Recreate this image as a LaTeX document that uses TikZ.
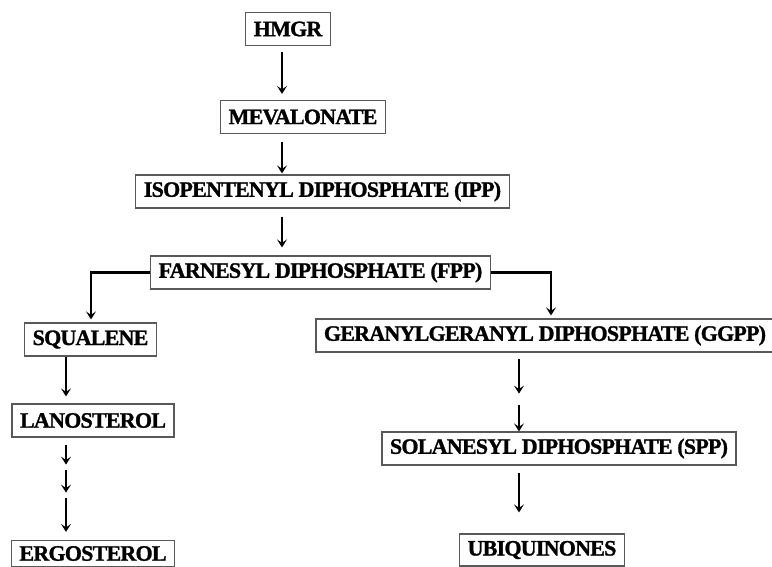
\documentclass[tikz,border=0pt]{standalone}
\usepackage{fontspec}
\setmainfont[LetterSpace=-3.5, BoldFeatures={FakeBold=1.2}]{Liberation Serif}
\usetikzlibrary{arrows.meta, positioning}

\tikzset{
  stage/.style={draw=black!65, line width=1.2pt, rectangle, fill=white,
    minimum height=33pt, inner xsep=8pt, inner ysep=0pt,
    font=\fontsize{22}{24}\selectfont\bfseries},
  flow/.style={->, line width=2.2pt, >={Stealth[length=8pt, width=10pt, inset=3.5pt]}}
}

\begin{document}
\begin{tikzpicture}[x=1pt, y=-1pt, node distance=2cm]
  \useasboundingbox (0,0) rectangle (772,567);

  % main chain
  \node (hmgr) [stage] at (288,29) {HMGR};
  \node (meva) [stage] at (303,117) {MEVALONATE};
  \node (ipp) [stage] at (322.5,191.5) {ISOPENTENYL DIPHOSPHATE (IPP)};
  \node (fpp) [stage] at (320.5,272.5) {FARNESYL DIPHOSPHATE (FPP)};

  % sterol branch
  \node (squa) [stage] at (90.5,339.5) {SQUALENE};
  \node (lano) [stage] at (93,420.5) {LANOSTEROL};
  \node (ergo) [stage, minimum height=26pt] at (93,553.5) {ERGOSTEROL};

  % quinone branch
  \node (ggpp) [stage] at (545,335.5) {GERANYLGERANYL DIPHOSPHATE (GGPP)};
  \node (spp) [stage] at (559,448.5) {SOLANESYL DIPHOSPHATE (SPP)};
  \node (ubiq) [stage, minimum height=32pt] at (542,550) {UBIQUINONES};

  \coordinate (spine) at (282,0);
  \coordinate (lcol) at (66,0);
  \coordinate (rcol) at (519,0);

  \draw [flow, shorten <=6pt, shorten >=6pt] (hmgr.south -| spine) -- (meva.north -| spine);
  \draw [flow, shorten <=8pt, shorten >=1pt] (meva.south -| spine) -- (ipp.north -| spine);
  \draw [flow, shorten <=8pt, shorten >=8pt] (ipp.south -| spine) -- (fpp.north -| spine);

  \draw [flow, shorten >=3pt] (fpp.west) -| ([xshift=0.5pt]squa.north);
  \draw [flow, shorten >=3pt] (fpp.east) -| ([xshift=6pt]ggpp.north);

  \draw [flow, shorten >=7pt] (squa.south -| lcol) -- (lano.north -| lcol);
  \draw [flow] (lano.south -| lcol) ++(0,7) -- ++(0,20);
  \draw [flow] (lano.south -| lcol) ++(0,32) -- ++(0,23);
  \draw [flow, shorten <=60pt, shorten >=8pt] (lano.south -| lcol) -- (ergo.north -| lcol);

  \draw [flow] (ggpp.south -| rcol) ++(0,6) -- ++(0,35);
  \draw [flow, shorten <=52pt] (ggpp.south -| rcol) -- (spp.north -| rcol);
  \draw [flow, shorten <=7pt, shorten >=21pt] (spp.south -| rcol) -- (ubiq.north -| rcol);
\end{tikzpicture}
\end{document}
